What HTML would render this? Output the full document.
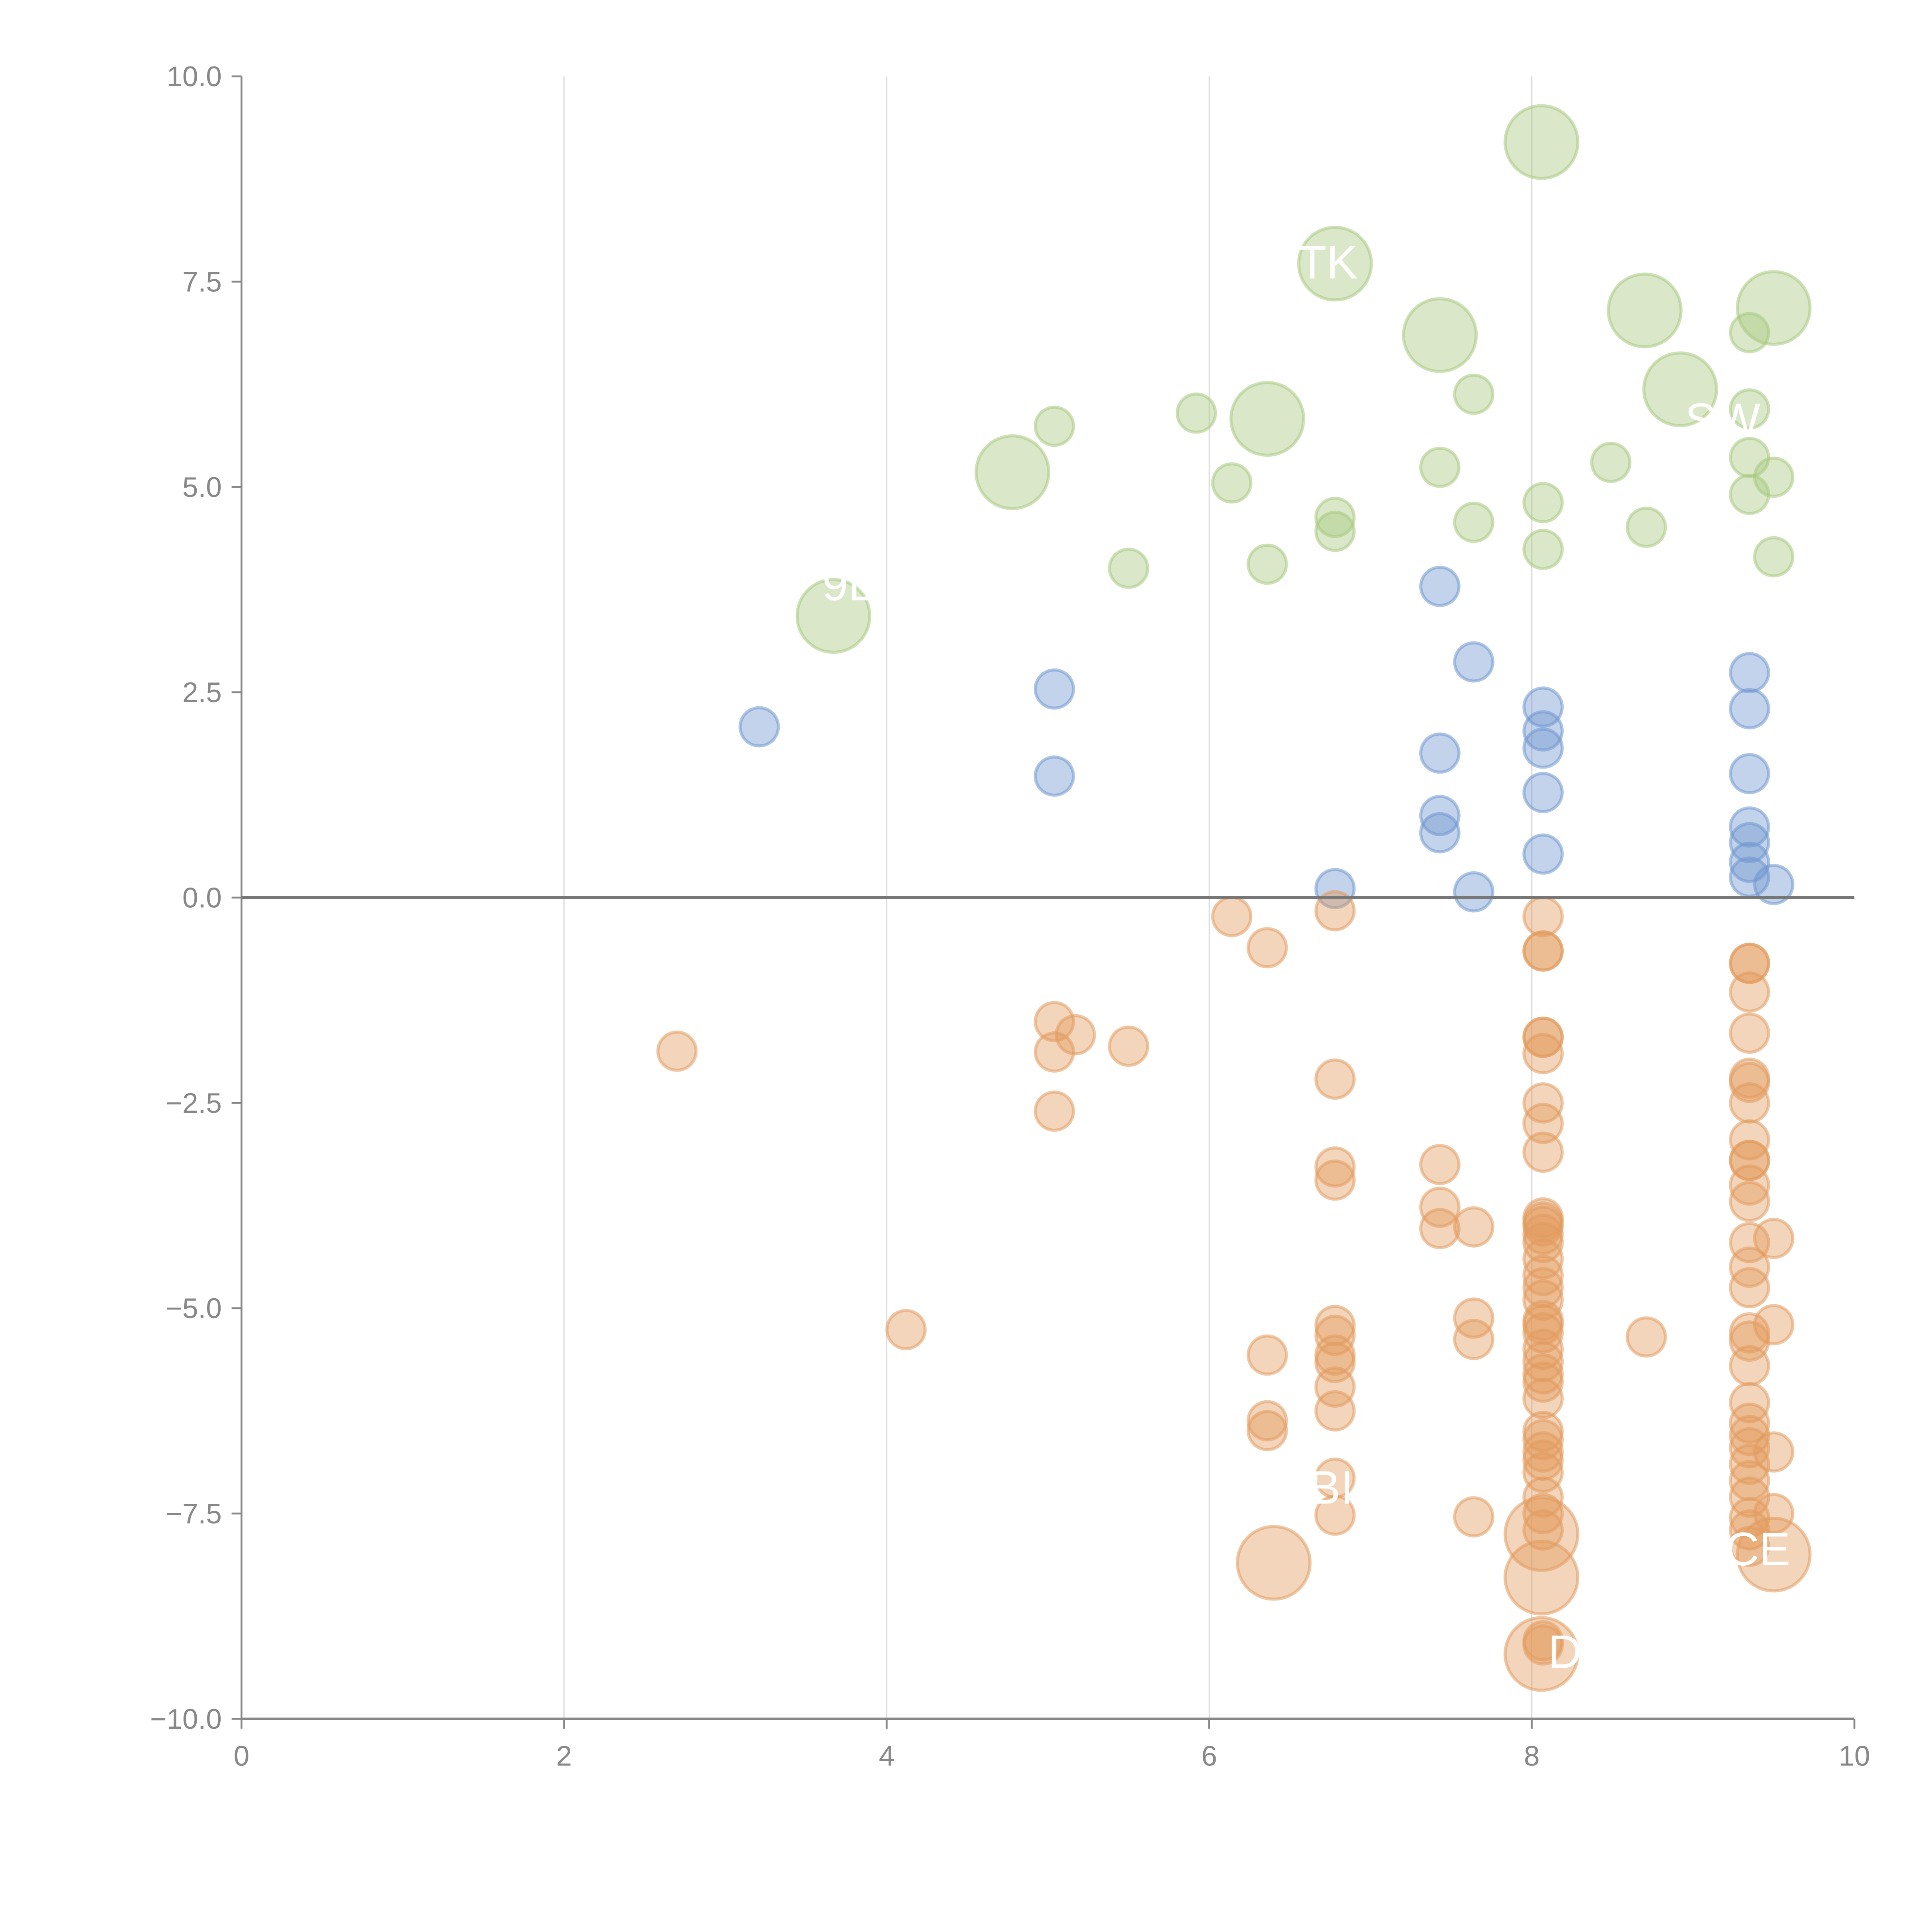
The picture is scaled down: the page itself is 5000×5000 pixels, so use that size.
<!DOCTYPE html>
<html><head><meta charset="utf-8"><style>
html,body{margin:0;padding:0;background:#fff;}
svg{display:block;}
text{font-family:"Liberation Sans",Arial,sans-serif;}
</style></head><body>
<svg id="chart" width="5000" height="5000" viewBox="0 0 1568 1568" xmlns="http://www.w3.org/2000/svg">
<g id="grid"></g>
<g id="axes"></g>
<g id="marks"></g>
<g id="labels"></g>
</svg>
<script>
// ---- data ----
const xTicks = [0, 2, 4, 6, 8, 10];
const yTicks = [10, 7.5, 5, 2.5, 0, -2.5, -5, -7.5, -10];
const yTickLabels = ["10.0", "7.5", "5.0", "2.5", "0.0", "\u22122.5", "\u22125.0", "\u22127.5", "\u221210.0"];

const greenBigX = [8.06, 6.78, 7.43, 8.70, 9.50, 8.92, 6.36, 4.78, 3.67];
const greenBigY = [9.2, 7.72, 6.85, 7.15, 7.18, 6.19, 5.83, 5.18, 3.43];
const greenX = [9.35, 7.64, 5.92, 5.04, 9.35, 6.14, 7.43, 8.49, 9.35, 9.50, 9.35, 8.07, 6.78, 6.78, 7.64, 8.71, 8.07, 9.50, 5.50, 6.36];
const greenY = [6.88, 6.13, 5.90, 5.74, 5.95, 5.05, 5.24, 5.30, 5.36, 5.12, 4.91, 4.81, 4.63, 4.46, 4.57, 4.51, 4.24, 4.15, 4.01, 4.06];

const blueX = [3.21, 5.04, 5.04, 7.43, 7.64, 7.43, 7.43, 7.43, 6.78, 7.64, 8.07, 8.07, 8.07, 8.07, 8.07, 9.35, 9.35, 9.35, 9.35, 9.35, 9.35, 9.35, 9.50];
const blueY = [2.08, 2.54, 1.48, 3.79, 2.87, 1.76, 1.00, 0.79, 0.11, 0.07, 2.32, 2.03, 1.82, 1.28, 0.53, 2.74, 2.30, 1.51, 0.86, 0.67, 0.43, 0.25, 0.16];

const orangeX = [2.70, 4.12, 5.04, 5.04, 5.17, 5.04, 5.50, 6.14, 6.36, 6.36, 6.36, 6.36,
  6.78, 6.78, 6.78, 6.78, 6.78, 6.78, 6.78, 6.78, 6.78, 6.78, 6.78, 6.78,
  7.43, 7.43, 7.43, 7.64, 7.64, 7.64, 7.64, 8.71,
  8.07, 8.07, 8.07, 8.07, 8.07, 8.07, 8.07, 8.07, 8.07, 8.07, 8.07, 8.07, 8.07, 8.07, 8.07, 8.07, 8.07, 8.07,
  8.07, 8.07, 8.07, 8.07, 8.07, 8.07, 8.07, 8.07, 8.07, 8.07, 8.07, 8.07, 8.07, 8.07, 8.07, 8.07, 8.07, 8.07,
  9.35, 9.35, 9.35, 9.35, 9.35, 9.35, 9.35, 9.35, 9.35, 9.35, 9.35, 9.35, 9.35, 9.35,
  9.35, 9.35, 9.35, 9.35, 9.35, 9.35, 9.35, 9.35, 9.35, 9.35, 9.35, 9.35, 9.35, 9.35,
  9.50, 9.50, 9.50, 9.50];
const orangeY = [-1.87, -5.26, -1.51, -1.88, -1.67, -2.60, -1.81, -0.23, -0.61, -5.57, -6.37, -6.49,
  -0.16, -2.21, -3.28, -3.44, -5.21, -5.33, -5.57, -5.66, -5.96, -6.25, -7.07, -7.52,
  -3.25, -3.77, -4.03, -4.01, -5.12, -5.38, -7.54, -5.35,
  -0.23, -0.65, -0.65, -1.7, -1.7, -1.9, -2.5, -2.75, -3.1, -3.9, -3.95, -4.0, -4.1, -4.2, -4.4, -4.6, -4.75, -4.9,
  -5.15, -5.2, -5.3, -5.5, -5.65, -5.8, -5.9, -6.1, -6.5, -6.6, -6.75, -6.85, -7.0, -7.3, -7.5, -7.7, -9.05, -9.1,
  -0.8, -0.8, -1.15, -1.65, -2.2, -2.25, -2.5, -2.95, -3.2, -3.2, -3.5, -3.7, -4.2, -4.5,
  -4.75, -5.3, -5.4, -5.7, -6.15, -6.4, -6.55, -6.7, -6.9, -7.1, -7.3, -7.55, -7.7, -7.9,
  -4.15, -5.2, -6.75, -7.5];
const orangeBigX = [6.40, 8.06, 8.06, 8.06, 9.50];
const orangeBigY = [-8.10, -7.75, -8.28, -9.21, -8.0];

const labelText = ["TK", "SW", "9E", "BI", "CE", "D"];
const labelX = [6.55, 8.95, 3.6, 6.62, 9.20, 8.10];
const labelY = [7.72, 5.8, 3.8, -7.2, -7.95, -9.2];

// ---- scales ----
const X0 = 196, X1 = 1505, Y0 = 1395, Y1 = 62;
const sx = v => X0 + (v - 0) / 10 * (X1 - X0);
const sy = v => Y0 - (v + 10) / 20 * (Y0 - Y1);
const NS = "http://www.w3.org/2000/svg";
function mk(tag, parent, attrs) {
  const e = document.createElementNS(NS, tag);
  for (const k in attrs) e.setAttribute(k, attrs[k]);
  parent.appendChild(e);
  return e;
}
const grid = document.getElementById('grid');
const axes = document.getElementById('axes');
const marks = document.getElementById('marks');
const labels = document.getElementById('labels');
const AX = "#888";

xTicks.forEach(t => {
  if (t === 0 || t === 10) return;
  const l = mk('line', grid, {x1: sx(t), x2: sx(t), y1: Y1, y2: Y0, stroke: "#ddd", "stroke-width": 1});
  
  
});

let a = mk('line', axes, {x1: X0, x2: X0, y1: Y1, y2: Y0, stroke: AX, "stroke-width": 1.5});


a = mk('line', axes, {x1: X0, x2: X1, y1: Y0, y2: Y0, stroke: AX, "stroke-width": 2});



xTicks.forEach(t => {
  const tk = mk('line', axes, {x1: sx(t), x2: sx(t), y1: Y0, y2: Y0 + 8, stroke: AX, "stroke-width": 1.5});
  
  
  const tx = mk('text', axes, {x: sx(t), y: Y0 + 38, "text-anchor": "middle", "font-size": 23, fill: AX});
  tx.textContent = String(t);
  
  
});
yTicks.forEach((t, i) => {
  const tk = mk('line', axes, {x1: X0 - 8, x2: X0, y1: sy(t), y2: sy(t), stroke: AX, "stroke-width": 1.5});
  
  
  const tx = mk('text', axes, {x: X0 - 16, y: sy(t) + 8, "text-anchor": "end", "font-size": 23, fill: AX});
  tx.textContent = yTickLabels[i];
  
  
});

function drawSeries(xs, ys, r, fill, stroke, name) {
  xs.forEach((x, i) => {
    const c = mk('circle', marks, {cx: sx(x), cy: sy(ys[i]), r: r, fill: fill, "fill-opacity": 0.42, stroke: stroke, "stroke-opacity": 0.55, "stroke-width": 2.5});
    
    
  });
}
drawSeries(greenBigX, greenBigY, 29.5, "#a8c97f", "#a8c97f", 'green-bubble-large');
drawSeries(greenX, greenY, 15.5, "#a8c97f", "#a8c97f", 'green-bubble');
drawSeries(blueX, blueY, 15.5, "#6f97cf", "#6f97cf", 'blue-bubble');
drawSeries(orangeX, orangeY, 15.5, "#e29a5e", "#e29a5e", 'orange-bubble');
drawSeries(orangeBigX, orangeBigY, 29.5, "#e29a5e", "#e29a5e", 'orange-bubble-large');

a = mk('line', axes, {x1: X0, x2: X1, y1: sy(0), y2: sy(0), stroke: "#777", "stroke-width": 2.5});


marks.parentNode.appendChild(axes);

labelText.forEach((t, i) => {
  const tx = mk('text', labels, {x: sx(labelX[i]), y: sy(labelY[i]) + 12, "font-size": 38, fill: "#fff"});
  tx.textContent = t;
  
  
});
marks.parentNode.appendChild(labels);
</script>
</body></html>
